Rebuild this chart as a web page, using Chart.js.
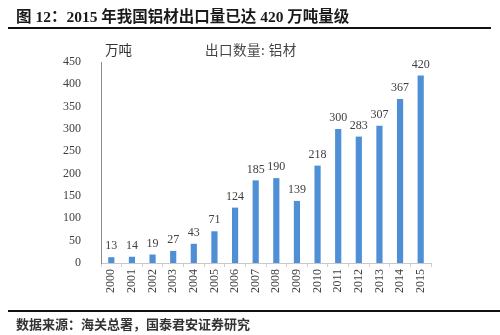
<!DOCTYPE html>
<html>
<head>
<meta charset="utf-8">
<script src="https://cdn.jsdelivr.net/npm/chart.js@4/dist/chart.umd.min.js"></script>
<style>
    body { margin: 0; background: #fff; }
    .wrap { position: relative; width: 500px; height: 335px; overflow: hidden; }
    canvas { position: absolute; left: 0; top: 0; }
    .title { position: absolute; left: 16px; top: 4px; font: bold 15.5px "Liberation Serif", "Noto Sans CJK SC"; color: #1a1a1a; white-space: nowrap; }
    .rule { position: absolute; left: 8px; height: 2px; background: #111; }
    .unit { position: absolute; left: 105px; top: 39px; font: 13.5px "Noto Sans CJK SC"; color: #333; }
    .legend { position: absolute; left: 205px; top: 39px; font: 13.5px "Noto Sans CJK SC"; color: #444; letter-spacing: 0.5px; }
    .source { position: absolute; left: 16px; top: 314px; font: bold 13px "Noto Sans CJK SC"; color: #333; white-space: nowrap; }
</style>
</head>
<body>
<div class="wrap">
    <canvas id="chart" width="500" height="335"></canvas>
    <div class="title">图 12：2015 年我国铝材出口量已达 420 万吨量级</div>
    <div class="rule" style="top:27px; width:483px;"></div>
    <div class="unit">万吨</div>
    <div class="legend">出口数量: 铝材</div>
    <div class="rule" style="top:310px; width:492px;"></div>
    <div class="source">数据来源：海关总署，国泰君安证券研究</div>
</div>
<script>
const years = ['2000', '2001', '2002', '2003', '2004', '2005', '2006', '2007',
    '2008', '2009', '2010', '2011', '2012', '2013', '2014', '2015'];
const exportVolume = [13, 14, 19, 27, 43, 71, 124, 185, 190, 139, 218, 300, 283, 307, 367, 420];
const yTicks = [0, 50, 100, 150, 200, 250, 300, 350, 400, 450];

const barColor = '#4f8fd6';

const valueLabels = {
    id: 'valueLabels',
    afterDatasetsDraw(chart) {
        const ctx = chart.ctx;
        const meta = chart.getDatasetMeta(0);
        ctx.save();
        ctx.font = '12px "Liberation Serif"';
        ctx.fillStyle = '#404040';
        ctx.textAlign = 'center';
        ctx.textBaseline = 'bottom';
        meta.data.forEach((bar, i) => {
            ctx.fillText(exportVolume[i], bar.x, bar.y - 5);
        });
        ctx.restore();
    }
};

new Chart(document.getElementById('chart'), {
    type: 'bar',
    data: {
        labels: years,
        datasets: [{
            label: '出口数量: 铝材',
            data: exportVolume,
            backgroundColor: barColor,
            barPercentage: 0.3,
            categoryPercentage: 1
        }]
    },
    options: {
        responsive: false,
        animation: false,
        layout: { padding: { left: 0, right: 69, top: 62, bottom: 30 } },
        plugins: {
            legend: { display: false },
            tooltip: { enabled: false }
        },
        scales: {
            x: {
                afterFit(scale) { scale.height = 42; },
                grid: {
                    offset: true,
                    drawOnChartArea: false,
                    drawTicks: true,
                    tickLength: 4,
                    color: '#d0d0d0'
                },
                border: { color: '#c8c8c8' },
                ticks: {
                    minRotation: 90,
                    maxRotation: 90,
                    padding: 2,
                    color: '#404040',
                    font: { family: 'Liberation Serif', size: 12 }
                }
            },
            y: {
                min: 0,
                max: 450,
                afterFit(scale) { scale.width = 101; },
                afterBuildTicks(scale) { scale.ticks = yTicks.map(v => ({ value: v })); },
                grid: { display: false },
                border: { color: '#8c8c8c' },
                ticks: {
                    padding: 12,
                    color: '#404040',
                    font: { family: 'Liberation Serif', size: 12 }
                }
            }
        }
    },
    plugins: [valueLabels]
});
</script>
</body>
</html>
